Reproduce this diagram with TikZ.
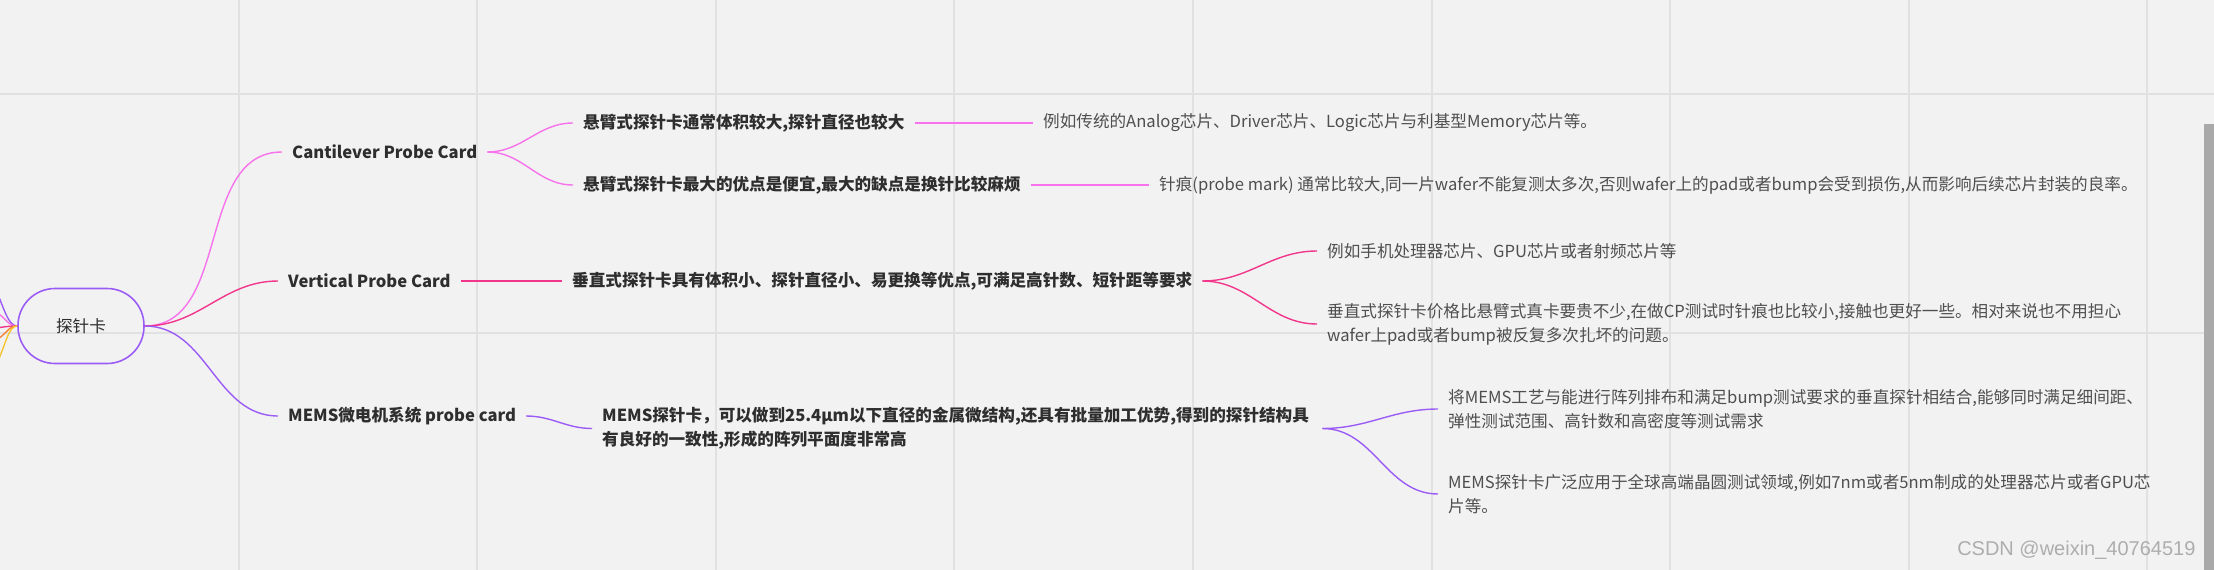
\documentclass[tikz,border=0pt]{standalone}
\usepackage{fontspec}
\setmainfont{Noto Sans CJK SC}
\newfontfamily\markfont{Liberation Sans}
\usepackage{tikz}
\usetikzlibrary{positioning}
\definecolor{canvas}{HTML}{F2F2F2}
\definecolor{gridgray}{HTML}{E1E1E1}
\definecolor{cantpink}{HTML}{F772EB}
\definecolor{vertrose}{HTML}{F2368B}
\definecolor{memsviolet}{HTML}{9B5CF6}
\definecolor{sideorange}{HTML}{F7843C}
\definecolor{sideyellow}{HTML}{F7C32E}
\definecolor{topictext}{HTML}{2E2E2E}
\definecolor{notetext}{HTML}{4F4F4F}
\definecolor{scrollgray}{HTML}{A9A9A9}
\definecolor{markgray}{HTML}{ADADAD}
\tikzset{
  root_topic/.style={rectangle, draw=memsviolet, line width=1.6pt, rounded corners=37pt, minimum width=126pt, minimum height=75pt, font=\fontsize{16.6}{24}\selectfont, text=topictext},
  main_topic/.style={anchor=west, inner xsep=10pt, inner ysep=2pt, font=\fontsize{16.6}{24}\selectfont\bfseries, text=topictext},
  sub_topic/.style={anchor=west, inner xsep=10pt, inner ysep=2pt, align=left, font=\fontsize{16.6}{24}\selectfont\bfseries, text=topictext},
  note_topic/.style={anchor=west, inner xsep=10pt, inner ysep=2pt, align=left, font=\fontsize{16.6}{24}\selectfont, text=notetext},
  branch/.style={line width=1.4pt, draw=#1},
  curve_link/.style={branch=#1, out=0, in=180},
  grid_line/.style={draw=gridgray, line width=2pt},
  mark_text/.style={anchor=east, font=\markfont\fontsize{20}{20}\selectfont, text=markgray}
}

\begin{document}
\begin{tikzpicture}[x=1pt, y=-1pt]
  % --- 1. Canvas and grid ---
  \useasboundingbox (0,0) rectangle (2214,570);
  \fill[canvas] (0,0) rectangle (2214,570);
  \clip (0,0) rectangle (2214,570);
  \foreach \k in {1,...,9}
    \draw[grid_line] ({238.6*\k},0) -- ({238.6*\k},570);
  \foreach \gy in {94,333}
    \draw[grid_line] (0,\gy) -- (2214,\gy);

  % --- 2. Central topic ---
  \node[root_topic] (probe) at (81,326) {探针卡};

  % --- 3. Main branches ---
  \node[main_topic] (cantilever) at (282,152) {Cantilever Probe Card};
  \node[main_topic] (vertical) at (278,281) {Vertical Probe Card};
  \node[main_topic] (mems) at (278,416) {MEMS微电机系统 probe card};

  % --- 4. Sub topics (bold) ---
  \node[sub_topic] (cant_size) at (573,123) {悬臂式探针卡通常体积较大,探针直径也较大};
  \node[sub_topic] (cant_cost) at (573,185) {悬臂式探针卡最大的优点是便宜,最大的缺点是换针比较麻烦};
  \node[sub_topic] (vert_merit) at (562,281) {垂直式探针卡具有体积小、探针直径小、易更换等优点,可满足高针数、短针距等要求};
  \node[sub_topic, text width=710pt] (mems_merit) at (592,428.5)
    {MEMS探针卡，可以做到25.4μm以下直径的金属微结构,还具有批量加工优势,得到的探针结构具\\有良好的一致性,形成的阵列平面度非常高};

  % --- 5. Notes (regular) ---
  \node[note_topic] (cant_size_note) at (1033,123) {例如传统的Analog芯片、Driver芯片、Logic芯片与利基型Memory芯片等。};
  \node[note_topic] (cant_cost_note) at (1149,185) {针痕(probe mark) 通常比较大,同一片wafer不能复测太多次,否则wafer上的pad或者bump会受到损伤,从而影响后续芯片封装的良率。};
  \node[note_topic] (vert_use) at (1317,251) {例如手机处理器芯片、GPU芯片或者射频芯片等};
  \node[note_topic] (vert_price) at (1317,324)
    {垂直式探针卡价格比悬臂式真卡要贵不少,在做CP测试时针痕也比较小,接触也更好一些。相对来说也不用担心\\wafer上pad或者bump被反复多次扎坏的问题。};
  \node[note_topic] (mems_process) at (1438,409)
    {将MEMS工艺与能进行阵列排布和满足bump测试要求的垂直探针相结合,能够同时满足细间距、\\弹性测试范围、高针数和高密度等测试需求};
  \node[note_topic] (mems_use) at (1438,494)
    {MEMS探针卡广泛应用于全球高端晶圆测试领域,例如7nm或者5nm制成的处理器芯片或者GPU芯\\片等。};

  % --- 6. Connectors ---
  \draw[curve_link=cantpink] (probe.east) to (cantilever.west);
  \draw[curve_link=vertrose] (probe.east) to (vertical.west);
  \draw[curve_link=memsviolet] (probe.east) to (mems.west);

  \draw[curve_link=cantpink] (cantilever.east) to (cant_size.west);
  \draw[curve_link=cantpink] (cantilever.east) to (cant_cost.west);
  \draw[branch=cantpink] (cant_size.east) -- (cant_size_note.west);
  \draw[branch=cantpink] (cant_cost.east) -- (cant_cost_note.west);

  \draw[branch=vertrose] (vertical.east) -- (vert_merit.west);
  \draw[curve_link=vertrose] (vert_merit.east) to (vert_use.west);
  \draw[curve_link=vertrose] (vert_merit.east) to (vert_price.west);

  \draw[curve_link=memsviolet] (mems.east) to (mems_merit.west);
  \draw[curve_link=memsviolet] (mems_merit.east) to (mems_process.west);
  \draw[curve_link=memsviolet] (mems_merit.east) to (mems_use.west);

  % --- 7. Branches leaving to the left (cut off) ---
  \coordinate (off_violet) at (-6,285);
  \coordinate (off_pink) at (-4,312);
  \coordinate (off_rose) at (-4,328);
  \coordinate (off_orange) at (-4,340);
  \coordinate (off_yellow) at (-4,365);
  \draw[branch=memsviolet] (probe.west) .. controls (8,326) and (4,308) .. (off_violet);
  \draw[branch=cantpink] (probe.west) .. controls (8,326) and (6,318) .. (off_pink);
  \draw[branch=vertrose] (probe.west) .. controls (8,326) and (4,327) .. (off_rose);
  \draw[branch=sideorange] (probe.west) .. controls (8,326) and (6,335) .. (off_orange);
  \draw[branch=sideyellow] (probe.west) .. controls (8,326) and (6,345) .. (off_yellow);

  % --- 8. Scroll bar and watermark ---
  \fill[scrollgray] (2204,124) rectangle (2214,570);
  \node[mark_text] (mark) at (2199,550) {CSDN @weixin\_40764519};
\end{tikzpicture}
\end{document}
